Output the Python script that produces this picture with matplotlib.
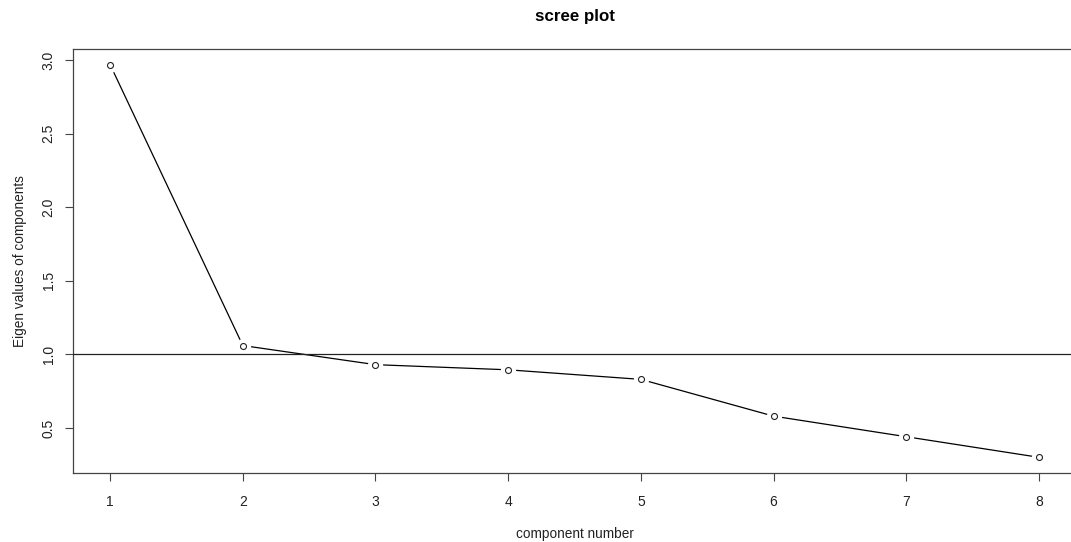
import matplotlib
matplotlib.use("Agg")
import matplotlib.pyplot as plt

components = [1, 2, 3, 4, 5, 6, 7, 8]
eigenvalues = [2.97, 1.06, 0.93, 0.895, 0.83, 0.58, 0.44, 0.30]
x_ticks = [1, 2, 3, 4, 5, 6, 7, 8]
y_ticks = [0.5, 1.0, 1.5, 2.0, 2.5, 3.0]
threshold = 1.0

plt.rcParams['font.family'] = ['Liberation Sans', 'DejaVu Sans']

W, H = 1071, 542
fig = plt.figure(figsize=(W / 100, H / 100), dpi=100)
left, right, top, bottom = 73, 1076, 49, 473
ax = fig.add_axes([left / W, 1 - bottom / H, (right - left) / W, (bottom - top) / H])

ax.plot(components, eigenvalues, color='black', lw=0.9, zorder=2)
ax.plot(components, eigenvalues, linestyle='none', marker='o', markersize=10,
        markerfacecolor='white', markeredgecolor='white', zorder=3)
ax.axhline(threshold, color='#222222', lw=0.9, zorder=4)
ax.plot(components, eigenvalues, linestyle='none', marker='o', markersize=4.3,
        markerfacecolor='white', markeredgecolor='#222222', markeredgewidth=0.8, zorder=5)

xmin, xmax = min(components), max(components)
ymin, ymax = min(eigenvalues), max(eigenvalues)
dx = (xmax - xmin) * 0.04
dy = (ymax - ymin) * 0.04
ax.set_xlim(xmin - dx, xmax + dx)
ax.set_ylim(ymin - dy, ymax + dy)

ax.set_xticks(x_ticks)
ax.set_xticklabels([str(v) for v in x_ticks])
ax.set_yticks(y_ticks)
ax.set_yticklabels([f"{v:.1f}" for v in y_ticks], rotation=90, va='center')
ax.tick_params(axis='both', direction='out', length=6, width=0.8, color='#444444',
               labelsize=10, labelcolor='#222222')
ax.tick_params(axis='x', pad=9.5)
ax.tick_params(axis='y', pad=6.5)

for s in ax.spines.values():
    s.set_color('#444444')
    s.set_linewidth(0.9)

ax.set_title('scree plot', fontsize=12.2, fontweight='bold', pad=20)
ax.set_xlabel('component number', fontsize=9.8, labelpad=13, color='#222222')
ax.set_ylabel('Eigen values of components', fontsize=9.8, labelpad=10.5, color='#222222')

fig.savefig('out.png', dpi=100)
